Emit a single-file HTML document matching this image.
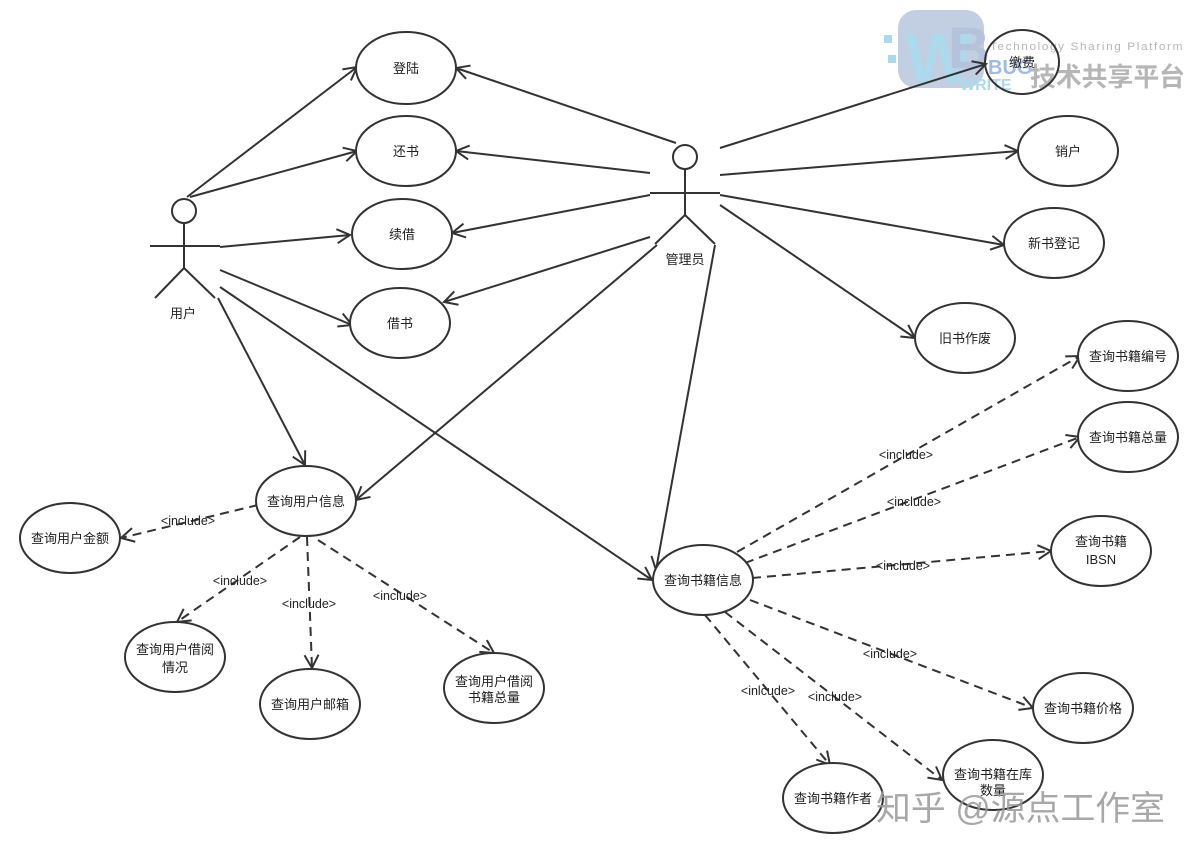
<!DOCTYPE html>
<html><head><meta charset="utf-8"><style>
html,body{margin:0;padding:0;background:#fff;}
svg{display:block;font-family:"Liberation Sans","Noto Sans CJK SC",sans-serif;}
</style></head><body>
<svg width="1194" height="854" viewBox="0 0 1194 854" xmlns="http://www.w3.org/2000/svg">
<defs>
<marker id="a" markerWidth="16" markerHeight="16" refX="14" refY="8" orient="auto" markerUnits="userSpaceOnUse">
<path d="M1,1 L14,8 L1,15" fill="none" stroke="#333" stroke-width="2"/>
</marker>
</defs>
<g opacity="0.85">
<rect x="898" y="10" width="86" height="78" rx="18" fill="#b8c6de"/>
<text x="905" y="82" font-size="70" font-weight="bold" fill="#9fd3ea">W</text>
<text x="948" y="68" font-size="58" font-weight="bold" fill="#a9b8d6">B</text>
<rect x="884" y="35" width="8" height="8" fill="#9fd3ea"/><rect x="888" y="55" width="8" height="8" fill="#9fd3ea"/>
<text x="990" y="50" font-size="11" fill="#aaa" letter-spacing="1.5" textLength="194" lengthAdjust="spacingAndGlyphs">Technology Sharing Platform</text>
<text x="988" y="74" font-size="20" font-weight="bold" fill="#8fb0e0">BUG</text>
<text x="960" y="90" font-size="16" font-weight="bold" fill="#9fd3ea">WRITE</text>
<text x="1030" y="86" font-size="26" font-weight="bold" fill="#aaa" textLength="155" lengthAdjust="spacingAndGlyphs">技术共享平台</text>
</g>
<g stroke="#333" stroke-width="2" fill="none">
<circle cx="184" cy="211" r="12"/>
<line x1="184" y1="223" x2="184" y2="268"/><line x1="150" y1="246" x2="220" y2="246"/>
<line x1="184" y1="268" x2="155" y2="298"/><line x1="184" y1="268" x2="215" y2="298"/>
<circle cx="685" cy="157" r="12"/>
<line x1="685" y1="169" x2="685" y2="215"/><line x1="650" y1="193" x2="720" y2="193"/>
<line x1="685" y1="215" x2="655" y2="244"/><line x1="685" y1="215" x2="715" y2="244"/>
<g marker-end="url(#a)">
<line x1="187" y1="197" x2="357" y2="67"/>
<line x1="190" y1="197" x2="357" y2="151"/>
<line x1="220" y1="247" x2="350" y2="235"/>
<line x1="220" y1="270" x2="352" y2="325"/>
<line x1="218" y1="298" x2="305" y2="465"/>
<line x1="220" y1="287" x2="652" y2="580"/>
<line x1="676" y1="143" x2="456" y2="68"/>
<line x1="650" y1="173" x2="456" y2="151"/>
<line x1="650" y1="195" x2="452" y2="233"/>
<line x1="650" y1="237" x2="444" y2="302"/>
<line x1="657" y1="245" x2="356" y2="500"/>
<line x1="715" y1="245" x2="656" y2="570"/>
<line x1="720" y1="148" x2="986" y2="64"/>
<line x1="720" y1="175" x2="1018" y2="151"/>
<line x1="720" y1="195" x2="1004" y2="245"/>
<line x1="720" y1="205" x2="915" y2="338"/>
</g>
<g marker-end="url(#a)" stroke-dasharray="9,6">
<line x1="258" y1="505" x2="121" y2="538"/>
<line x1="300" y1="537" x2="177" y2="622"/>
<line x1="307" y1="537" x2="312" y2="668"/>
<line x1="318" y1="540" x2="494" y2="653"/>
<line x1="737" y1="552" x2="1080" y2="356"/>
<line x1="745" y1="563" x2="1080" y2="437"/>
<line x1="752" y1="578" x2="1051" y2="551"/>
<line x1="750" y1="600" x2="1033" y2="708"/>
<line x1="705" y1="615" x2="830" y2="765"/>
<line x1="725" y1="612" x2="942" y2="780"/>
</g>
<g fill="#fff">
<ellipse cx="406" cy="68" rx="50" ry="36"/>
<ellipse cx="406" cy="151" rx="50" ry="35"/>
<ellipse cx="402" cy="234" rx="50" ry="35"/>
<ellipse cx="400" cy="323" rx="50" ry="35"/>
<ellipse cx="1068" cy="151" rx="50" ry="35"/>
<ellipse cx="1054" cy="243" rx="50" ry="35"/>
<ellipse cx="965" cy="338" rx="50" ry="35"/>
<ellipse cx="1128" cy="356" rx="50" ry="35"/>
<ellipse cx="1128" cy="437" rx="50" ry="35"/>
<ellipse cx="1101" cy="551" rx="50" ry="35"/>
<ellipse cx="1083" cy="708" rx="50" ry="35"/>
<ellipse cx="993" cy="775" rx="50" ry="35"/>
<ellipse cx="833" cy="798" rx="50" ry="35"/>
<ellipse cx="703" cy="580" rx="50" ry="35"/>
<ellipse cx="306" cy="501" rx="50" ry="35"/>
<ellipse cx="70" cy="538" rx="50" ry="35"/>
<ellipse cx="175" cy="657" rx="50" ry="35"/>
<ellipse cx="310" cy="704" rx="50" ry="35"/>
<ellipse cx="494" cy="688" rx="50" ry="35"/>
</g>
<ellipse cx="1022" cy="62" rx="37" ry="32"/>
</g>
<g font-size="13" fill="#222" text-anchor="middle">
<text x="406" y="73">登陆</text><text x="406" y="156">还书</text>
<text x="402" y="239">续借</text><text x="400" y="328">借书</text>
<text x="1022" y="67">缴费</text><text x="1068" y="156">销户</text>
<text x="1054" y="248">新书登记</text><text x="965" y="343">旧书作废</text>
<text x="1128" y="361">查询书籍编号</text><text x="1128" y="442">查询书籍总量</text>
<text x="1101" y="546">查询书籍</text><text x="1101" y="564">IBSN</text>
<text x="1083" y="713">查询书籍价格</text>
<text x="993" y="779">查询书籍在库</text><text x="993" y="795">数量</text>
<text x="833" y="803">查询书籍作者</text><text x="703" y="585">查询书籍信息</text>
<text x="306" y="506">查询用户信息</text><text x="70" y="543">查询用户金额</text>
<text x="175" y="654">查询用户借阅</text><text x="175" y="672">情况</text>
<text x="310" y="709">查询用户邮箱</text>
<text x="494" y="686">查询用户借阅</text><text x="494" y="702">书籍总量</text>
<text x="183" y="318">用户</text><text x="685" y="264">管理员</text>
<g font-size="12.5">
<text x="188" y="525">&lt;include&gt;</text><text x="240" y="585">&lt;include&gt;</text>
<text x="309" y="608">&lt;include&gt;</text><text x="400" y="600">&lt;include&gt;</text>
<text x="906" y="459">&lt;include&gt;</text><text x="914" y="506">&lt;include&gt;</text>
<text x="903" y="570">&lt;include&gt;</text><text x="890" y="658">&lt;include&gt;</text>
<text x="768" y="695">&lt;inlcude&gt;</text><text x="835" y="701">&lt;include&gt;</text>
</g>
</g>
<text x="876" y="820" font-size="34" fill="#999" opacity="0.85" textLength="289" lengthAdjust="spacingAndGlyphs">知乎 @源点工作室</text>
</svg>
</body></html>
